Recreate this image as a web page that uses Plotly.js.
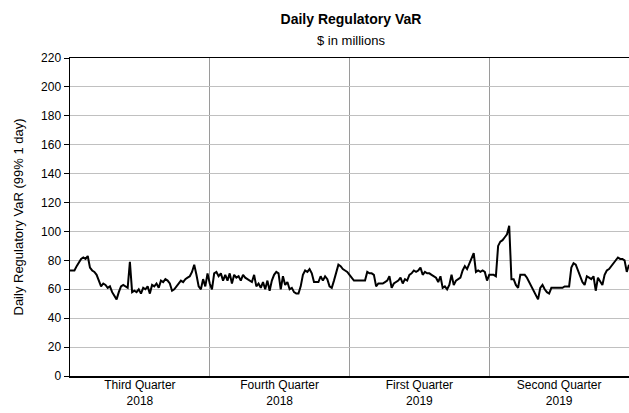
<!DOCTYPE html>
<html>
<head>
<meta charset="utf-8">
<script src="https://cdn.plot.ly/plotly-3.0.1.min.js"></script>
<style>html,body{margin:0;padding:0;background:#fff;}#chart{width:629px;height:413px;}</style>
</head>
<body>
<div id="chart"></div>
<script>
// Daily regulatory VaR, $ millions, one value per trading day
const q3_2018 = [73,73,73,76,79,81,82,81,83,75,73,72,70,66,62,64,63,61,62,58,55,53,58,62,63,62,61,79,58,59,58,60,57,61,60,62,57,63,62,64,61,66,65,67,66,64,59,60,62,64,66,65,67,68,69,72,77,70,62,60,67,62,71];
const q4_2018 = [64,60,71,72,69,71,66,70,66,71,64,70,68,69,66,70,68,67,66,65,70,62,64,61,65,60,66,59,66,70,72,71,60,69,63,65,60,61,58,57,57,62,70,73,72,74,71,65,65,65,69,66,69,67,62,61,66,72,77,76,74,73,72];
const q1_2019 = [70,68,66,66,66,66,66,66,72,71,71,70,62,64,64,64,65,66,69,61,64,65,66,68,64,67,66,70,71,73,72,73,75,70,72,71,71,70,69,68,65,69,61,62,60,63,70,63,66,67,68,73,76,74,78,81,85,72,73,72,73,72,66];
const q2_2019 = [70,70,70,69,90,93,94,96,98,104,67,67,63,61,70,70,70,68,65,62,60,56,53,61,63,60,58,57,61,61,61,61,61,61,62,62,62,75,78,77,73,68,65,63,69,68,67,69,59,68,65,63,70,73,74,76,78,80,82,81,81,80,72,77];

const quarterLabels = ["Third Quarter<br>2018","Fourth Quarter<br>2018","First Quarter<br>2019","Second Quarter<br>2019"];
const quarterData = [q3_2018, q4_2018, q1_2019, q2_2019];
const titleText = "Daily Regulatory VaR";
const subtitleText = "$ in millions";
const yTitleText = "Daily Regulatory VaR (99% 1 day)";

const values = [].concat(...quarterData);
const days = values.map((v, i) => i);

// quarter boundaries and label positions in trading-day index
const bounds = [];
const mids = [];
let start = 0;
quarterData.forEach((q, i) => {
  const len = i < 3 ? q.length : q.length - 1;
  mids.push(start + len / 2);
  start += len;
  if (i < 3) bounds.push(start);
});

const font = "Liberation Sans, Arial, sans-serif";

Plotly.newPlot("chart", [{
  x: days,
  y: values,
  type: "scatter",
  mode: "lines",
  line: {color: "#000", width: 2},
  hoverinfo: "skip"
}], {
  width: 629,
  height: 413,
  margin: {l: 70, r: 0, t: 58, b: 37},
  paper_bgcolor: "#fff",
  plot_bgcolor: "#fff",
  font: {family: font, color: "#000", size: 12},
  showlegend: false,
  title: {
    text: "<b>" + titleText + "</b>",
    font: {family: font, size: 14, color: "#000"},
    x: 0.558, xanchor: "center",
    y: 1 - 19/413, yanchor: "middle", yref: "container"
  },
  annotations: [{
    text: subtitleText,
    xref: "paper", yref: "paper",
    x: 0.503, xanchor: "center",
    y: 1 + 18/318, yanchor: "middle",
    showarrow: false,
    font: {family: font, size: 13, color: "#000"}
  }],
  xaxis: {
    range: [0, days.length - 1],
    tickmode: "array",
    tickvals: mids,
    ticktext: quarterLabels,
    ticks: "",
    ticklabelstandoff: -3,
    showgrid: false,
    zeroline: false,
    showline: true,
    linecolor: "#000",
    linewidth: 1.5,
    mirror: true,
    tickfont: {family: font, size: 12, color: "#000"},
    minor: {tickmode: "array", tickvals: bounds, showgrid: true, gridcolor: "#9a9a9a", gridwidth: 1, ticks: ""}
  },
  yaxis: {
    range: [0, 220],
    dtick: 20,
    tick0: 0,
    ticks: "outside",
    ticklen: 5,
    tickcolor: "#000",
    showline: true,
    linecolor: "#000",
    linewidth: 1.5,
    showgrid: true,
    gridcolor: "#c0c0c0",
    gridwidth: 1,
    zeroline: false,
    tickfont: {family: font, size: 12, color: "#000"},
    title: {text: yTitleText, font: {family: font, size: 13, color: "#000"}, standoff: 14}
  }
}, {staticPlot: true});
</script>
</body>
</html>
